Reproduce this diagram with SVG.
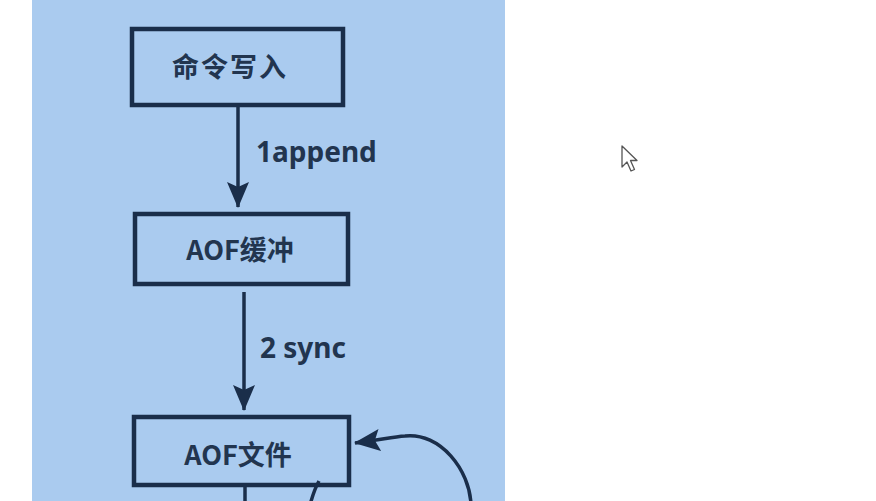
<svg xmlns="http://www.w3.org/2000/svg" width="876" height="501" viewBox="0 0 876 501">
  <style>
    .box { fill: none; stroke: #1a2e4a; stroke-width: 4.5; }
    .lbl { font-family: "Noto Sans CJK SC", "Noto Sans", sans-serif; font-weight: bold; font-size: 27px; fill: #22354f; }
    .elbl { font-family: "Noto Sans", "DejaVu Sans", sans-serif; font-weight: bold; font-size: 28px; fill: #22354f; }
    .conn { fill: none; stroke: #1a2e4a; stroke-width: 3.5; }
  </style>
  <defs>
    <marker id="arrow" viewBox="0 0 26 22" refX="25" refY="11" markerWidth="26" markerHeight="22" markerUnits="userSpaceOnUse" orient="auto">
      <path d="M0,0 L26,11 L0,22 L5,11 z" fill="#1a2e4a"/>
    </marker>
  </defs>
  <rect x="0" y="0" width="876" height="501" fill="#ffffff"/>
  <rect id="panel" x="32" y="0" width="473" height="501" fill="#aacbef"/>

  <g id="node-cmd">
    <rect class="box" x="132" y="29" width="211" height="76"/>
    <text class="lbl" x="230" y="77" text-anchor="middle" letter-spacing="2">命令写入</text>
  </g>
  <g id="node-buffer">
    <rect class="box" x="135" y="214" width="213" height="70"/>
    <text class="lbl" x="240" y="260" text-anchor="middle">AOF缓冲</text>
  </g>
  <g id="node-file">
    <rect class="box" x="134" y="417" width="215" height="68"/>
    <text class="lbl" x="238" y="465" text-anchor="middle">AOF文件</text>
  </g>

  <g id="connectors">
    <path class="conn" d="M238,107 L238,207" marker-end="url(#arrow)"/>
    <path class="conn" d="M244,292 L244,410" marker-end="url(#arrow)"/>
    <path class="conn" d="M471,505 C470,470 440,432 405,436 C392,437 380,440 355,443" marker-end="url(#arrow)"/>
    <path class="conn" d="M319,481 Q314,490 310,505"/>
    <path class="conn" d="M245,487 L245,505"/>
  </g>

  <g id="edge-labels">
    <text class="elbl" x="256" y="162">1append</text>
    <text class="elbl" x="260" y="358">2 sync</text>
  </g>

  <g id="cursor">
    <path d="M622,146 L622,167 L627,162 L631,171 L634.5,169.5 L630.5,160.5 L637,160.5 Z" fill="#ffffff" stroke="#555555" stroke-width="1.3" stroke-linejoin="round"/>
  </g>
</svg>
